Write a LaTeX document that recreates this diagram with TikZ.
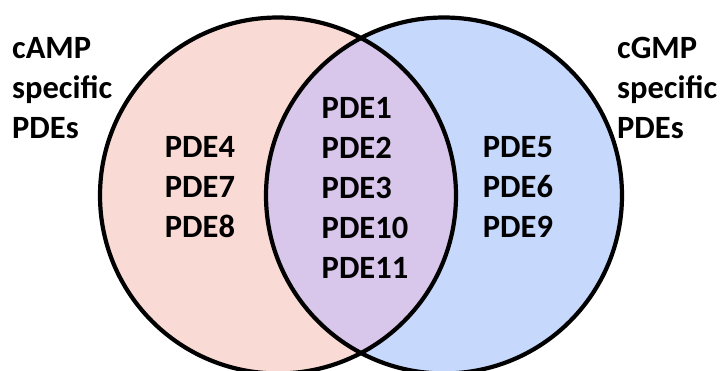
\documentclass[tikz,border=0pt]{standalone}
\usepackage{fontspec}
\setmainfont{Carlito}
\usepackage{tikz}
\definecolor{campfill}{RGB}{250,218,213}
\definecolor{cgmpfill}{RGB}{198,216,251}
\definecolor{bothfill}{RGB}{216,198,235}
\tikzstyle{setline}=[draw=black, line width=4.2pt]
\tikzstyle{pdelist}=[align=left, inner sep=0pt, font=\bfseries\fontsize{32.5}{40}\selectfont]
\tikzstyle{texto}=[pdelist, anchor=west]

\begin{document}
\begin{tikzpicture}[x=1pt, y=-1pt]
  \useasboundingbox (0,0) rectangle (723,370);

  % Draw the two sets
  \fill[campfill] (278,195.5) circle (178);
  \fill[cgmpfill] (444,195.5) circle (178);
  \begin{scope}
    \clip (278,195.5) circle (178);
    \fill[bothfill] (444,195.5) circle (178);
  \end{scope}
  \path[setline] (278,195.5) circle (178);
  \path[setline] (444,195.5) circle (178);

  % Draw the members of each set
  \node (camp) [pdelist] at (200,187) {PDE4\\PDE7\\PDE8};
  \node (both) [pdelist] at (365,188) {PDE1\\PDE2\\PDE3\\PDE10\\PDE11};
  \node (cgmp) [pdelist] at (518,187) {PDE5\\PDE6\\PDE9};

  % Draw the set titles
  \node (camptitle) [texto] at (12,88) {cAMP\\specific\\PDEs};
  \node (cgmptitle) [texto] at (617,88) {cGMP\\specific\\PDEs};
\end{tikzpicture}
\end{document}
